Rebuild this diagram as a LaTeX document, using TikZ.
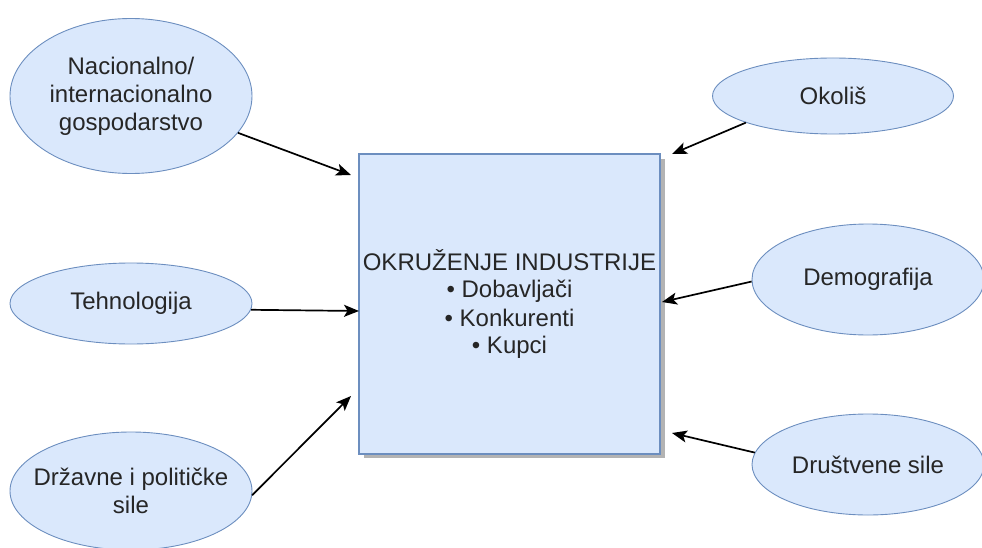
\documentclass[tikz,border=0pt]{standalone}
\usepackage{fontspec}
\setmainfont{Liberation Sans}
\usetikzlibrary{shapes.geometric,arrows.meta}
\definecolor{dfill}{HTML}{DAE8FC}
\definecolor{dline}{HTML}{6C8EBF}
\definecolor{shadowgray}{HTML}{B3B3B3}
\tikzset{
  ell/.style={ellipse, draw=dline, fill=dfill, line width=0.9pt, inner sep=-30pt, align=center,
    font=\fontsize{24}{28}\selectfont, text=black!85},
  mainbox/.style={rectangle, draw=dline, fill=dfill, line width=1.2pt, inner sep=0pt, align=center,
    font=\fontsize{24}{28}\selectfont, text=black!85, minimum width=301pt, minimum height=300pt},
  conn/.style={line width=1.7pt, -{Stealth[length=15pt,width=12pt,inset=3.5pt]}}
}
\begin{document}
\begin{tikzpicture}[x=1pt,y=-1pt]
\useasboundingbox (0,0) rectangle (982,548);
\clip (0,0) rectangle (982,548);
% shadow
\fill[shadowgray] (364,159) rectangle (665,458);
\node[mainbox] (box) at (509.5,304) {OKRUŽENJE INDUSTRIJE\\• Dobavljači\\• Konkurenti\\• Kupci};
\node[ell, minimum width=242pt, minimum height=155pt] (nac) at (131,96) {Nacionalno/\\internacionalno\\gospodarstvo};
\node[ell, minimum width=242pt, minimum height=81pt] (teh) at (131,303.5) {Tehnologija};
\node[ell, minimum width=242pt, minimum height=118pt] (drz) at (131,491) {Državne i političke\\sile};
\node[ell, minimum width=241pt, minimum height=76pt] (oko) at (833,96) {Okoliš};
\node[ell, minimum width=232pt, minimum height=111pt] (dem) at (868,279.5) {Demografija};
\node[ell, minimum width=232pt, minimum height=101pt] (dru) at (868,464.5) {Društvene sile};
\coordinate (e1) at (351,175);
\coordinate (e2) at (359,311);
\coordinate (e3) at (351,396);
\coordinate (e4) at (672,154);
\coordinate (e5) at (662,302);
\coordinate (e6) at (672,433);
\draw[conn] (nac.-19.9) -- (e1);
\draw[conn] (teh.-3.6) -- (e2);
\draw[conn] (drz.-2.8) -- (e3);
\draw[conn] (oko.-163.2) -- (e4);
\draw[conn] (dem.181) -- (e5);
\draw[conn] (dru.174.6) -- (e6);
\end{tikzpicture}
\end{document}
